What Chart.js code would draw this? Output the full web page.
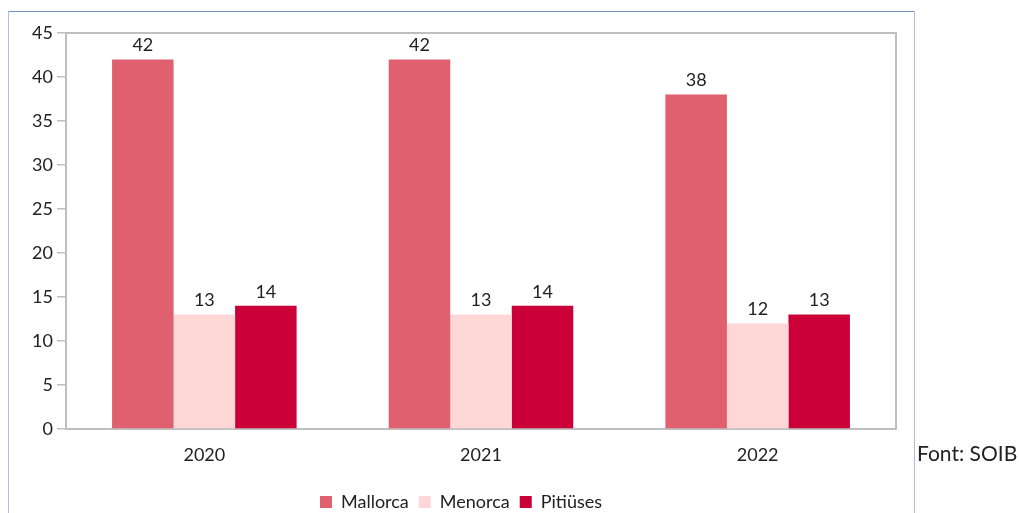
<!DOCTYPE html>
<html>
<head>
<meta charset="utf-8">
<script src="https://cdn.jsdelivr.net/npm/chart.js@4/dist/chart.umd.min.js"></script>
<style>
  html, body { margin: 0; padding: 0; background: #fff; }
  #wrap { position: relative; width: 1019px; height: 513px; overflow: hidden; }
  #source {
    position: absolute;
    left: 917px;
    top: 440px;
    font-family: Lato, sans-serif;
    font-size: 21px;
    color: #222;
  }
</style>
</head>
<body>
<div id="wrap">
  <canvas id="chart" width="1019" height="513"></canvas>
  <div id="source">Font: SOIB</div>
</div>
<script>
  const years = ["2020", "2021", "2022"];
  const mallorca = [42, 42, 38];
  const menorca = [13, 13, 12];
  const pitiuses = [14, 14, 13];
  const yTicks = [0, 5, 10, 15, 20, 25, 30, 35, 40, 45];

  const textColor = "#222";
  const axisColor = "#bfbfbf";

  // outer frame + top/right border of plot area
  const framePlugin = {
    id: "frame",
    beforeDraw(chart) {
      const ctx = chart.ctx;
      ctx.save();
      ctx.lineWidth = 1;
      ctx.strokeStyle = "#a9bfe0";
      ctx.beginPath();
      ctx.moveTo(8.5, 513);
      ctx.lineTo(8.5, 11.5);
      ctx.moveTo(914.5, 11.5);
      ctx.lineTo(914.5, 513);
      ctx.stroke();
      ctx.strokeStyle = "#7393c4";
      ctx.beginPath();
      ctx.moveTo(8.5, 11.5);
      ctx.lineTo(914.5, 11.5);
      ctx.stroke();
      ctx.restore();
    },
    afterDraw(chart) {
      const { left, right, top, bottom } = chart.chartArea;
      const ctx = chart.ctx;
      ctx.save();
      ctx.strokeStyle = axisColor;
      ctx.lineWidth = 2;
      ctx.beginPath();
      ctx.moveTo(left, top);
      ctx.lineTo(right, top);
      ctx.lineTo(right, bottom);
      ctx.stroke();
      ctx.restore();
    },
  };

  // value labels above each bar
  const valueLabels = {
    id: "valueLabels",
    afterDatasetsDraw(chart) {
      const ctx = chart.ctx;
      ctx.save();
      ctx.font = "18px Lato, sans-serif";
      ctx.fillStyle = textColor;
      ctx.textAlign = "center";
      ctx.textBaseline = "bottom";
      chart.data.datasets.forEach((ds, i) => {
        chart.getDatasetMeta(i).data.forEach((bar, j) => {
          ctx.fillText(ds.data[j], bar.x, bar.y - 5);
        });
      });
      ctx.restore();
    },
  };

  new Chart(document.getElementById("chart"), {
    type: "bar",
    data: {
      labels: years,
      datasets: [
        { label: "Mallorca", data: mallorca, backgroundColor: "#e06070" },
        { label: "Menorca", data: menorca, backgroundColor: "#ffd7d7" },
        { label: "Pitiüses", data: pitiuses, backgroundColor: "#cc0038" },
      ],
    },
    options: {
      responsive: false,
      animation: false,
      categoryPercentage: 0.667,
      barPercentage: 1,
      layout: {
        padding: { left: 26, right: 123, top: 33, bottom: -8 },
      },
      plugins: {
        legend: {
          position: "bottom",
          labels: {
            boxWidth: 12,
            boxHeight: 12,
            padding: 10,
            color: textColor,
            font: { family: "Lato, sans-serif", size: 18 },
          },
        },
        tooltip: { enabled: false },
      },
      scales: {
        x: {
          grid: { display: false, drawTicks: false },
          border: { color: axisColor, width: 2 },
          ticks: {
            color: textColor,
            padding: 15,
            font: { family: "Lato, sans-serif", size: 18 },
          },
          afterFit: (scale) => {
            scale.height = 54;
          },
        },
        y: {
          min: 0,
          max: 45,
          afterBuildTicks: (scale) => {
            scale.ticks = yTicks.map((v) => ({ value: v }));
          },
          afterFit: (scale) => {
            scale.width = 40;
          },
          grid: {
            drawOnChartArea: false,
            drawTicks: true,
            tickLength: 9,
            color: axisColor,
            lineWidth: 1.5,
          },
          border: { color: axisColor, width: 2 },
          ticks: {
            color: textColor,
            padding: 4,
            font: { family: "Lato, sans-serif", size: 18 },
          },
        },
      },
    },
    plugins: [framePlugin, valueLabels],
  });
</script>
</body>
</html>
